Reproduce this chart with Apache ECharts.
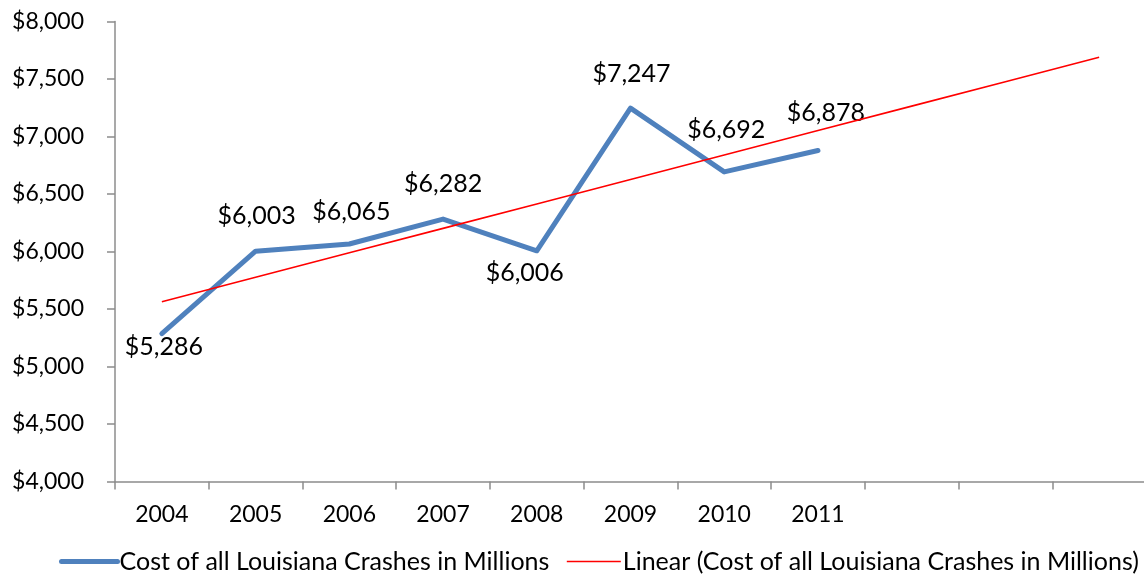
<!DOCTYPE html>
<html>
<head>
<meta charset="utf-8">
<script src="https://cdn.jsdelivr.net/npm/echarts@6/dist/echarts.min.js"></script>
<style>
  html, body { margin: 0; padding: 0; background: #fff; }
  #chart { width: 1144px; height: 574px; }
</style>
</head>
<body>
<div id="chart"></div>
<script>
// Annual cost of Louisiana crashes (millions of dollars)
const years = ['2004', '2005', '2006', '2007', '2008', '2009', '2010', '2011'];
const costs = [5286, 6003, 6065, 6282, 6006, 7247, 6692, 6878];
// trend line is projected three periods past the last year
const forecastSlots = ['', ' ', '  '];
const yTicks = [4000, 4500, 5000, 5500, 6000, 6500, 7000, 7500, 8000];

const seriesName = 'Cost of all Louisiana Crashes in Millions';
const trendName = 'Linear (Cost of all Louisiana Crashes in Millions)';

// label nudges [dx, dy] from each point, in px
const labelNudge = [[2, 13], [1, -35], [2, -32], [0, -35], [-12, 22], [1, -34], [2, -42], [8, -38]];

const categories = years.concat(forecastSlots);

// least-squares linear trend over the observed years
function linearTrend(values, count) {
  const n = values.length;
  let sx = 0, sy = 0, sxy = 0, sxx = 0;
  values.forEach((v, i) => { sx += i; sy += v; sxy += i * v; sxx += i * i; });
  const slope = (n * sxy - sx * sy) / (n * sxx - sx * sx);
  const icpt = (sy - slope * sx) / n;
  const out = [];
  for (let i = 0; i < count; i++) out.push(icpt + slope * i);
  return out;
}
const trend = linearTrend(costs, categories.length);

const money = v => '$' + Math.round(v).toString().replace(/\B(?=(\d{3})+(?!\d))/g, ',');

const FONT = 'Lato';
const axisGray = '#8c8c8c';
const BLUE = '#4F81BD';
const RED = '#ff0000';

// one legend block per entry so each can sit at its own spot
function legendBlock(left, entry, sampleWidth) {
  return {
    left: left,
    top: 549,
    padding: 0,
    itemWidth: sampleWidth,
    itemHeight: 24,
    textStyle: { fontFamily: FONT, fontSize: 25, color: '#000', padding: [0, 0, 0, -3] },
    itemStyle: { opacity: 0 },
    data: [entry]
  };
}

const chart = echarts.init(document.getElementById('chart'), null, { renderer: 'canvas' });
chart.setOption({
  animation: false,
  backgroundColor: '#ffffff',
  textStyle: { fontFamily: FONT, color: '#000' },
  grid: { left: 115, top: 21.5, width: 1031, height: 460, outerBoundsMode: 'none', containLabel: false },
  xAxis: {
    type: 'category',
    data: categories,
    boundaryGap: true,
    axisLine: { lineStyle: { color: axisGray, width: 1.5 } },
    axisTick: { show: true, length: 8, lineStyle: { color: axisGray, width: 1.5 }, alignWithLabel: false },
    axisLabel: { fontFamily: FONT, fontSize: 23, color: '#000', margin: 22, interval: 0 },
    splitLine: { show: false }
  },
  yAxis: {
    type: 'value',
    min: yTicks[0],
    max: yTicks[yTicks.length - 1],
    interval: yTicks[1] - yTicks[0],
    axisLine: { show: true, lineStyle: { color: axisGray, width: 1.5 } },
    axisTick: { show: true, length: 8, lineStyle: { color: axisGray, width: 1.5 } },
    axisLabel: { fontFamily: FONT, fontSize: 23, color: '#000', margin: 31, formatter: money },
    splitLine: { show: false }
  },
  legend: [
    legendBlock(59, { name: seriesName, lineStyle: { color: BLUE, width: 5, cap: 'round' } }, 56),
    legendBlock(566, { name: trendName, lineStyle: { color: RED, width: 1.6 } }, 54)
  ],
  series: [
    {
      name: trendName,
      type: 'line',
      data: trend,
      symbol: 'none',
      silent: true,
      z: 3,
      lineStyle: { color: RED, width: 1.6 },
      itemStyle: { color: RED }
    },
    {
      name: seriesName,
      type: 'line',
      data: costs.map((v, i) => ({
        value: v,
        label: { offset: labelNudge[i] }
      })),
      symbol: 'circle',
      symbolSize: 1,
      showSymbol: true,
      z: 2,
      lineStyle: { color: BLUE, width: 5, cap: 'round', join: 'round' },
      itemStyle: { color: BLUE },
      label: {
        show: true,
        position: 'inside',
        fontFamily: FONT,
        fontSize: 25,
        color: '#000',
        formatter: p => money(p.value)
      }
    }
  ]
});
</script>
</body>
</html>
